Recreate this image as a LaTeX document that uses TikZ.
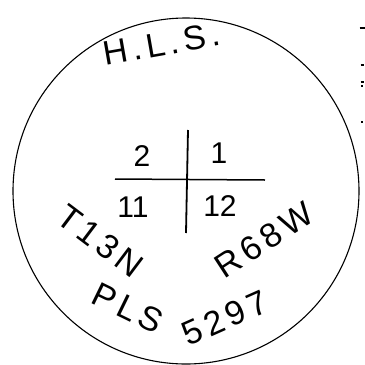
\documentclass[tikz,border=0pt]{standalone}
\usepackage{fontspec}
\setmainfont{Liberation Sans}
\usetikzlibrary{positioning}

\begin{document}
\begin{tikzpicture}[x=1pt,y=-1pt,
  lbl/.style={inner sep=0pt,font=\fontsize{30}{32}\selectfont},
  big/.style={inner sep=0pt,font=\fontsize{34}{36}\selectfont\addfontfeature{LetterSpace=14}}]
\useasboundingbox (0,0) rectangle (365,365);
% seal
\node (seal) [circle,draw,line width=1.1pt,minimum size=346pt,inner sep=0pt] at (186,191) {};
% section cross
\coordinate (ntop) at (188,130);
\coordinate (nbot) at (186,233);
\coordinate (wend) at (115,179);
\coordinate (eend) at (265,180);
\draw[line width=1.8pt] (ntop) -- (nbot);
\draw[line width=1.5pt] (wend) -- (eend);
\node[lbl] (s2) at (142,156) {2};
\node[lbl] (s1) at (219,153) {1};
\node[lbl] (s11) at (133,207) {11};
\node[lbl] (s12) at (220,206) {12};
% labels round the rim
\node[big,rotate=10] (hls) at (162,44) {H.L.S.};
\node[big,rotate=-37] (twp) at (100,241) {T13N};
\node[big,rotate=33] (rng) at (264,240) {R68W};
\node[big,rotate=-26] (pls) at (128,308) {PLS};
\node[big,rotate=24] (num) at (225,318) {5297};
% scan marks
\foreach \y/\w in {28/5,65/3,82/3,86/2,122/2}
  \draw[line width=1.2pt] (362-\w/2,\y) -- (362+\w/2,\y);
\end{tikzpicture}
\end{document}
